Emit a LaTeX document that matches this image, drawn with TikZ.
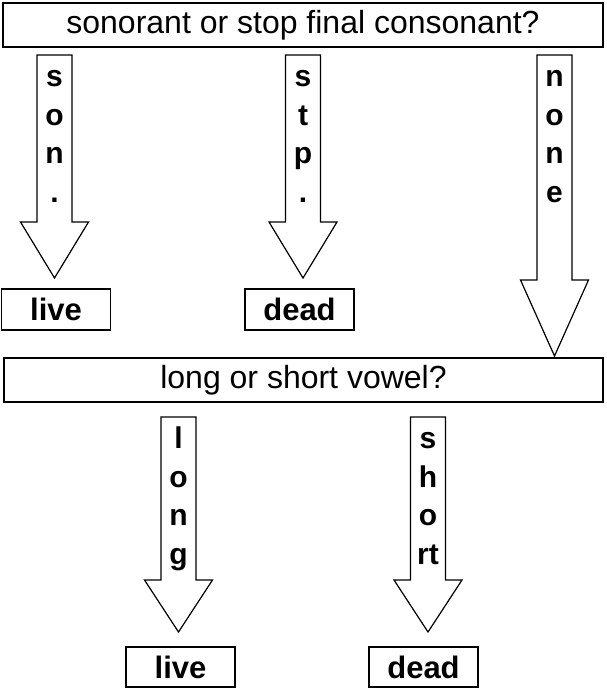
\documentclass[tikz,border=0pt]{standalone}
\usepackage{fontspec}
\setmainfont{Liberation Sans}
\begin{document}
\begin{tikzpicture}[x=1pt, y=-1pt,
    question/.style={draw, line width=1.5pt, minimum height=44pt, inner sep=0pt, font=\fontsize{32}{38}\selectfont},
    result/.style={draw, line width=1.5pt, minimum width=109pt, minimum height=41pt, inner sep=0pt, font=\fontsize{31}{36}\selectfont\bfseries},
    blockarrow/.style={draw, line width=1.2pt, line join=miter},
    letters/.style={anchor=base, align=center, inner sep=0pt, font=\fontsize{30}{38.5}\selectfont\bfseries}]
    \useasboundingbox (0, 0) rectangle (606, 691);

    \path (303, 25)     node[question, minimum width=600pt] (q1) {sonorant or stop final consonant?};
    \path (303.5, 380)  node[question, minimum width=599pt] (q2) {long or short vowel?};
    \path (56, 309.5)   node[result] (live1) {live};
    \path (299.5, 309.5) node[result] (dead1) {dead};
    \path (180.5, 667)  node[result, minimum height=40pt] (live2) {live};
    \path (423.5, 667)  node[result, minimum height=40pt] (dead2) {dead};

    \draw[blockarrow] (37, 55) -- (72, 55) -- (72, 222) -- (88.5, 222) -- (54.5, 278) -- (20.5, 222) -- (37, 222) -- cycle;
    \draw[blockarrow] (285.5, 55) -- (320.5, 55) -- (320.5, 222) -- (337, 222) -- (303, 278) -- (269, 222) -- (285.5, 222) -- cycle;
    \draw[blockarrow] (537, 55) -- (572, 55) -- (572, 280) -- (588.5, 280) -- (554.5, 356) -- (520.5, 280) -- (537, 280) -- cycle;
    \draw[blockarrow] (161, 417) -- (196, 417) -- (196, 580) -- (212.5, 580) -- (178.5, 632) -- (144.5, 580) -- (161, 580) -- cycle;
    \draw[blockarrow] (410.5, 417) -- (445.5, 417) -- (445.5, 580) -- (462, 580) -- (428, 632) -- (394, 580) -- (410.5, 580) -- cycle;

    \path (54.5, 202)  node[letters] (son)   {s\\o\\n\\.};
    \path (303, 202)   node[letters] (stp)   {s\\t\\p\\.};
    \path (554.5, 202) node[letters] (none)  {n\\o\\n\\e};
    \path (178.5, 564) node[letters] (long)  {l\\o\\n\\g};
    \path (428, 564)   node[letters] (short) {s\\h\\o\\rt};
\end{tikzpicture}
\end{document}
